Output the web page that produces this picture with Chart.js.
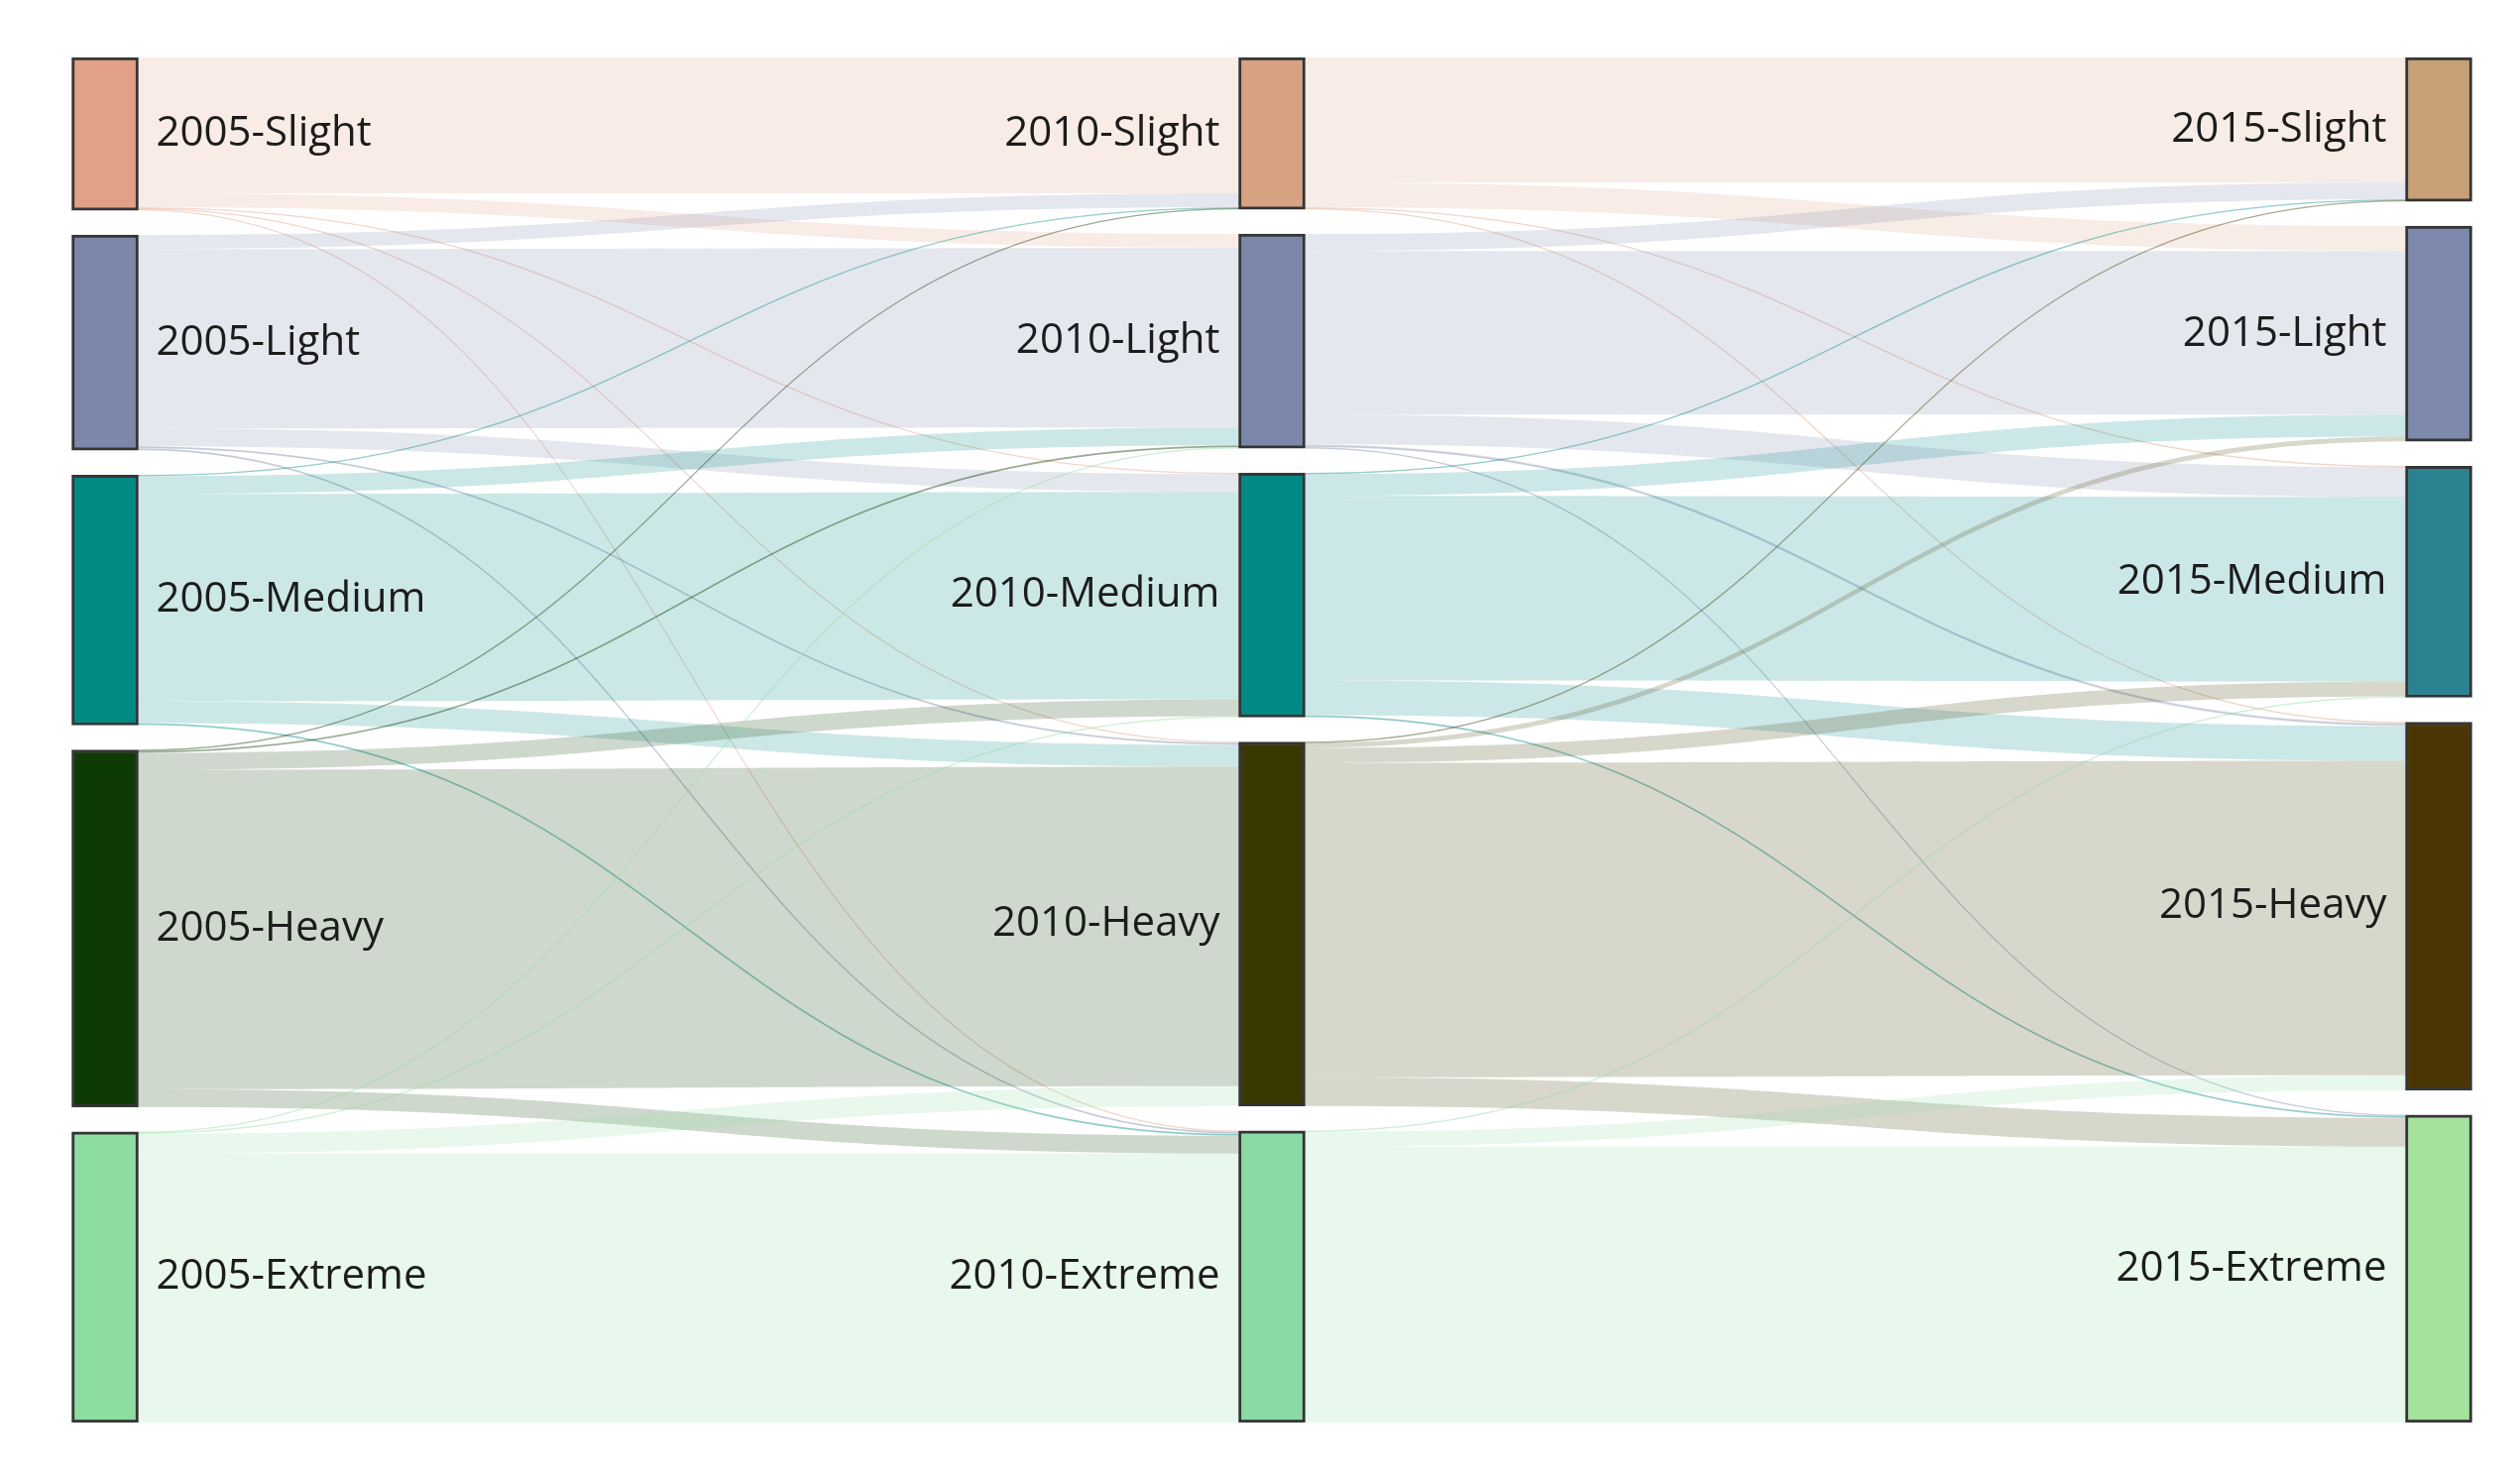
<!DOCTYPE html>
<html>
<head>
<meta charset="utf-8">
<script src="https://cdn.jsdelivr.net/npm/chart.js@4.4.1/dist/chart.umd.min.js"></script>
<style>
  html, body { margin: 0; padding: 0; background: #ffffff; }
  #wrap { width: 2542px; height: 1490px; position: relative; }
</style>
</head>
<body>
<div id="wrap"><canvas id="chart"></canvas></div>
<script>
// ---------------- DATA ----------------
const years = ['2005', '2010', '2015'];
const classes = ['Slight', 'Light', 'Medium', 'Heavy', 'Extreme'];

// Flows 2005 -> 2010 (one array per 2005 class; order of targets = classes)
const from2005_Slight  = [137, 14, 1, 1, 1];
const from2005_Light   = [14, 181, 18, 2, 2];
const from2005_Medium  = [1, 18, 209, 22, 2];
const from2005_Heavy   = [1, 2, 17, 322, 18];
const from2005_Extreme = [0, 1, 1, 20, 271];

// Flows 2010 -> 2015 (one array per 2010 class; order of targets = classes)
const from2010_Slight  = [126, 25, 1, 1, 0];
const from2010_Light   = [17, 165, 30, 3, 1];
const from2010_Medium  = [1, 22, 186, 35, 2];
const from2010_Heavy   = [1, 5, 15, 317, 29];
const from2010_Extreme = [0, 0, 1, 15, 278];

// Node colours per year
const colors2005 = ['#E2A086', '#7B88AA', '#008A84', '#0E3A05', '#8DDDA0'];
const colors2010 = ['#D6A282', '#7B88AA', '#008985', '#3A3802', '#8ADAA6'];
const colors2015 = ['#C8A076', '#7D8AAD', '#2B8391', '#4A3604', '#A3E39B'];

// ---------------- LAYOUT FROM DATA ----------------
const stages = [
  [from2005_Slight, from2005_Light, from2005_Medium, from2005_Heavy, from2005_Extreme],
  [from2010_Slight, from2010_Light, from2010_Medium, from2010_Heavy, from2010_Extreme]
];
const nodeColors = [colors2005, colors2010, colors2015];
const n = classes.length;
const sum = a => a.reduce((s, v) => s + v, 0);
const colSum = (M, j) => sum(M.map(r => r[j]));

const colVals = [
  stages[0].map(r => sum(r)),
  classes.map((_, j) => Math.max(colSum(stages[0], j), sum(stages[1][j]))),
  classes.map((_, j) => colSum(stages[1], j))
];
const nodePad = 25;
const maxTotal = Math.max(...colVals.map(sum));
const yMax = maxTotal + (n - 1) * nodePad;
const nodeY = colVals.map(vals => {
  const gap = (yMax - sum(vals)) / (n - 1);
  let y = 0;
  return vals.map(v => { const r = [y, y + v]; y += v + gap; return r; });
});

const datasets = classes.map((c, i) => ({
  label: c,
  data: years.map((_, k) => nodeY[k][i]),
  backgroundColor: years.map((_, k) => nodeColors[k][i]),
  borderColor: '#353535',
  borderWidth: 3,
  borderSkipped: false,
  grouped: false,
  barThickness: 67,
  clip: false
}));

function rgba(hex, a) {
  const v = parseInt(hex.slice(1), 16);
  return `rgba(${(v >> 16) & 255},${(v >> 8) & 255},${v & 255},${a})`;
}

const sankeyPlugin = {
  id: 'sankeyLinks',
  beforeDatasetsDraw(chart) {
    const ctx = chart.ctx;
    const ys = chart.scales.y;
    ctx.save();
    stages.forEach((M, s) => {
      const outOff = nodeY[s].map(r => r[0]);
      const inOff = nodeY[s + 1].map(r => r[0]);
      for (let i = 0; i < n; i++) {
        const srcBar = chart.getDatasetMeta(i).data[s];
        for (let j = 0; j < n; j++) {
          const v = M[i][j];
          if (!v) continue;
          const tgtBar = chart.getDatasetMeta(j).data[s + 1];
          const a0 = outOff[i]; outOff[i] += v;
          const b0 = inOff[j]; inOff[j] += v;
          const x0 = srcBar.x + srcBar.width / 2;
          const x1 = tgtBar.x - tgtBar.width / 2;
          const xm = (x0 + x1) / 2;
          const yt0 = ys.getPixelForValue(a0), yb0 = ys.getPixelForValue(a0 + v);
          const yt1 = ys.getPixelForValue(b0), yb1 = ys.getPixelForValue(b0 + v);
          const col = nodeColors[s][i];
          ctx.beginPath();
          ctx.moveTo(x0, yt0);
          ctx.bezierCurveTo(xm, yt0, xm, yt1, x1, yt1);
          ctx.lineTo(x1, yb1);
          ctx.bezierCurveTo(xm, yb1, xm, yb0, x0, yb0);
          ctx.closePath();
          ctx.fillStyle = rgba(col, 0.2);
          ctx.fill();
          if (v <= 3) {
            const c0 = (yt0 + yb0) / 2, c1 = (yt1 + yb1) / 2;
            ctx.beginPath();
            ctx.moveTo(x0, c0);
            ctx.bezierCurveTo(xm, c0, xm, c1, x1, c1);
            ctx.strokeStyle = rgba(col, 0.3);
            ctx.lineWidth = 1.4;
            ctx.stroke();
          }
        }
      }
    });
    ctx.restore();
  },
  afterDatasetsDraw(chart) {
    const ctx = chart.ctx;
    ctx.save();
    ctx.font = '42px "Open Sans", "Noto Sans", sans-serif';
    ctx.fillStyle = '#1c1c1c';
    ctx.textBaseline = 'middle';
    for (let k = 0; k < years.length; k++) {
      for (let i = 0; i < n; i++) {
        const bar = chart.getDatasetMeta(i).data[k];
        const yc = (bar.y + bar.base) / 2;
        const text = years[k] + '-' + classes[i];
        if (k === 0) {
          ctx.textAlign = 'left';
          ctx.fillText(text, bar.x + bar.width / 2 + 18, yc);
        } else {
          ctx.textAlign = 'right';
          ctx.fillText(text, bar.x - bar.width / 2 - 19, yc);
        }
      }
    }
    ctx.restore();
  }
};

new Chart(document.getElementById('chart'), {
  type: 'bar',
  data: { labels: years, datasets },
  options: {
    responsive: true,
    maintainAspectRatio: false,
    animation: false,
    devicePixelRatio: 1,
    layout: { padding: { left: 106, right: 82, top: 58, bottom: 55 } },
    plugins: { legend: { display: false }, tooltip: { enabled: false } },
    scales: {
      x: { type: 'category', offset: false, display: false },
      y: { type: 'linear', min: 0, max: yMax, reverse: true, display: false }
    }
  },
  plugins: [sankeyPlugin]
});
</script>
</body>
</html>
